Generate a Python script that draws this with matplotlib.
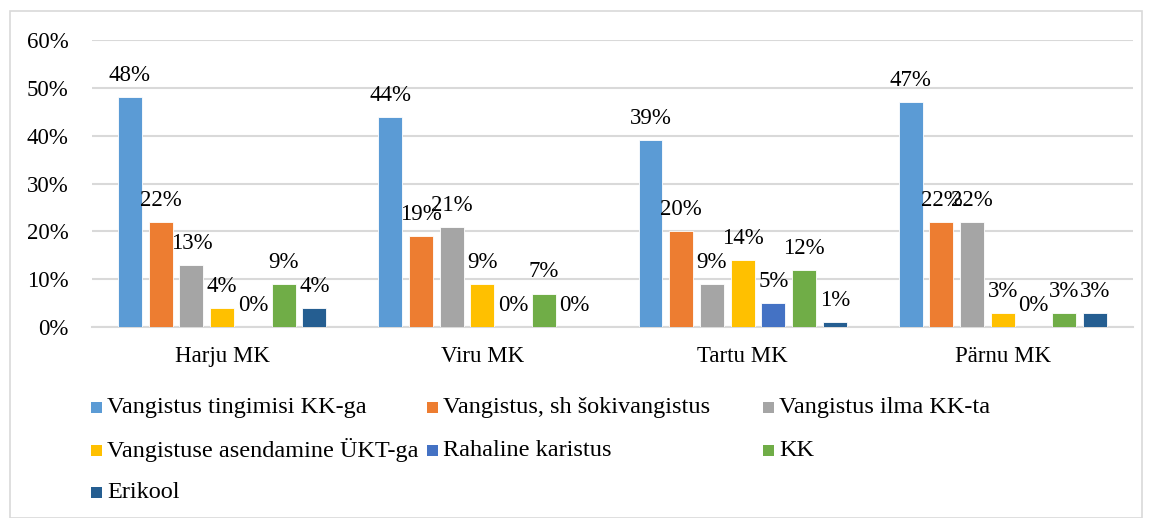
import matplotlib
matplotlib.use("Agg")
import matplotlib.pyplot as plt
from matplotlib.patches import Rectangle
import numpy as np

plt.rcParams['font.family'] = ['Liberation Serif', 'DejaVu Serif']

categories = ["Harju MK", "Viru MK", "Tartu MK", "Pärnu MK"]
series_names = [
    "Vangistus tingimisi KK-ga",
    "Vangistus, sh šokivangistus",
    "Vangistus ilma KK-ta",
    "Vangistuse asendamine ÜKT-ga",
    "Rahaline karistus",
    "KK",
    "Erikool",
]
vangistus_tingimisi = [48, 44, 39, 47]
vangistus_sokk = [22, 19, 20, 22]
vangistus_ilma = [13, 21, 9, 22]
asendamine_ukt = [4, 9, 14, 3]
rahaline = [0, 0, 5, 0]
kk = [9, 7, 12, 3]
erikool = [4, 0, 1, 3]
values = [vangistus_tingimisi, vangistus_sokk, vangistus_ilma, asendamine_ukt,
          rahaline, kk, erikool]
colors = ["#5B9BD5", "#ED7D31", "#A5A5A5", "#FFC000", "#4472C4", "#70AD47", "#255E91"]
y_ticks = [0, 10, 20, 30, 40, 50, 60]

W, H = 1152, 518
fig = plt.figure(figsize=(W / 100, H / 100), dpi=100)

# outer chart border
fig.patches.append(Rectangle((10 / W, 0), (1142 - 10) / W, 1 - 11 / H,
                             transform=fig.transFigure, fill=False,
                             edgecolor="#D9D9D9", linewidth=1.2))

ax = fig.add_axes([92 / W, 1 - 327 / H, 1041 / W, 287 / H])
x = np.arange(len(categories))
step = 0.118
width = 0.092
for i, (vals, col) in enumerate(zip(values, colors)):
    off = (i - 3) * step
    ax.bar(x + off, np.array(vals) / 100, width=width, color=col,
           edgecolor="white", linewidth=0.6, zorder=3)
    for xi, v in zip(x, vals):
        ax.annotate(f"{v}%", (xi + off, v / 100), xytext=(0, 15.5),
                    textcoords="offset points", ha="center", va="center",
                    fontsize=16.5, color="#000000", zorder=4)

ax.set_ylim(0, 0.6)
ax.set_xlim(-0.5, len(categories) - 0.5)
ax.set_yticks(np.array(y_ticks) / 100)
ax.set_yticklabels([f"{t}%" for t in y_ticks], fontsize=16.5)
ax.set_xticks(x)
ax.set_xticklabels(categories, fontsize=16.5)
ax.tick_params(axis="y", length=0, pad=17)
ax.tick_params(axis="x", length=0, pad=14)
ax.grid(axis="y", color="#D9D9D9", linewidth=1.5, zorder=0)
for s in ["top", "right", "left"]:
    ax.spines[s].set_visible(False)
ax.spines["bottom"].set_color("#D9D9D9")
ax.spines["bottom"].set_linewidth(1.5)

# legend
col_x = [91, 427, 763]
row_y = [407, 450, 492]
for i, (name, col) in enumerate(zip(series_names, colors)):
    r, c = divmod(i, 3)
    mx, my = col_x[c], row_y[r]
    fig.patches.append(Rectangle((mx / W, 1 - (my + 5.5) / H), 11 / W, 11 / H,
                                 transform=fig.transFigure, facecolor=col,
                                 edgecolor="none"))
    fig.text((mx + 16) / W, 1 - my / H, name, fontsize=17.5, ha="left",
             va="center", color="#000000")

fig.savefig("out.png", dpi=100)
